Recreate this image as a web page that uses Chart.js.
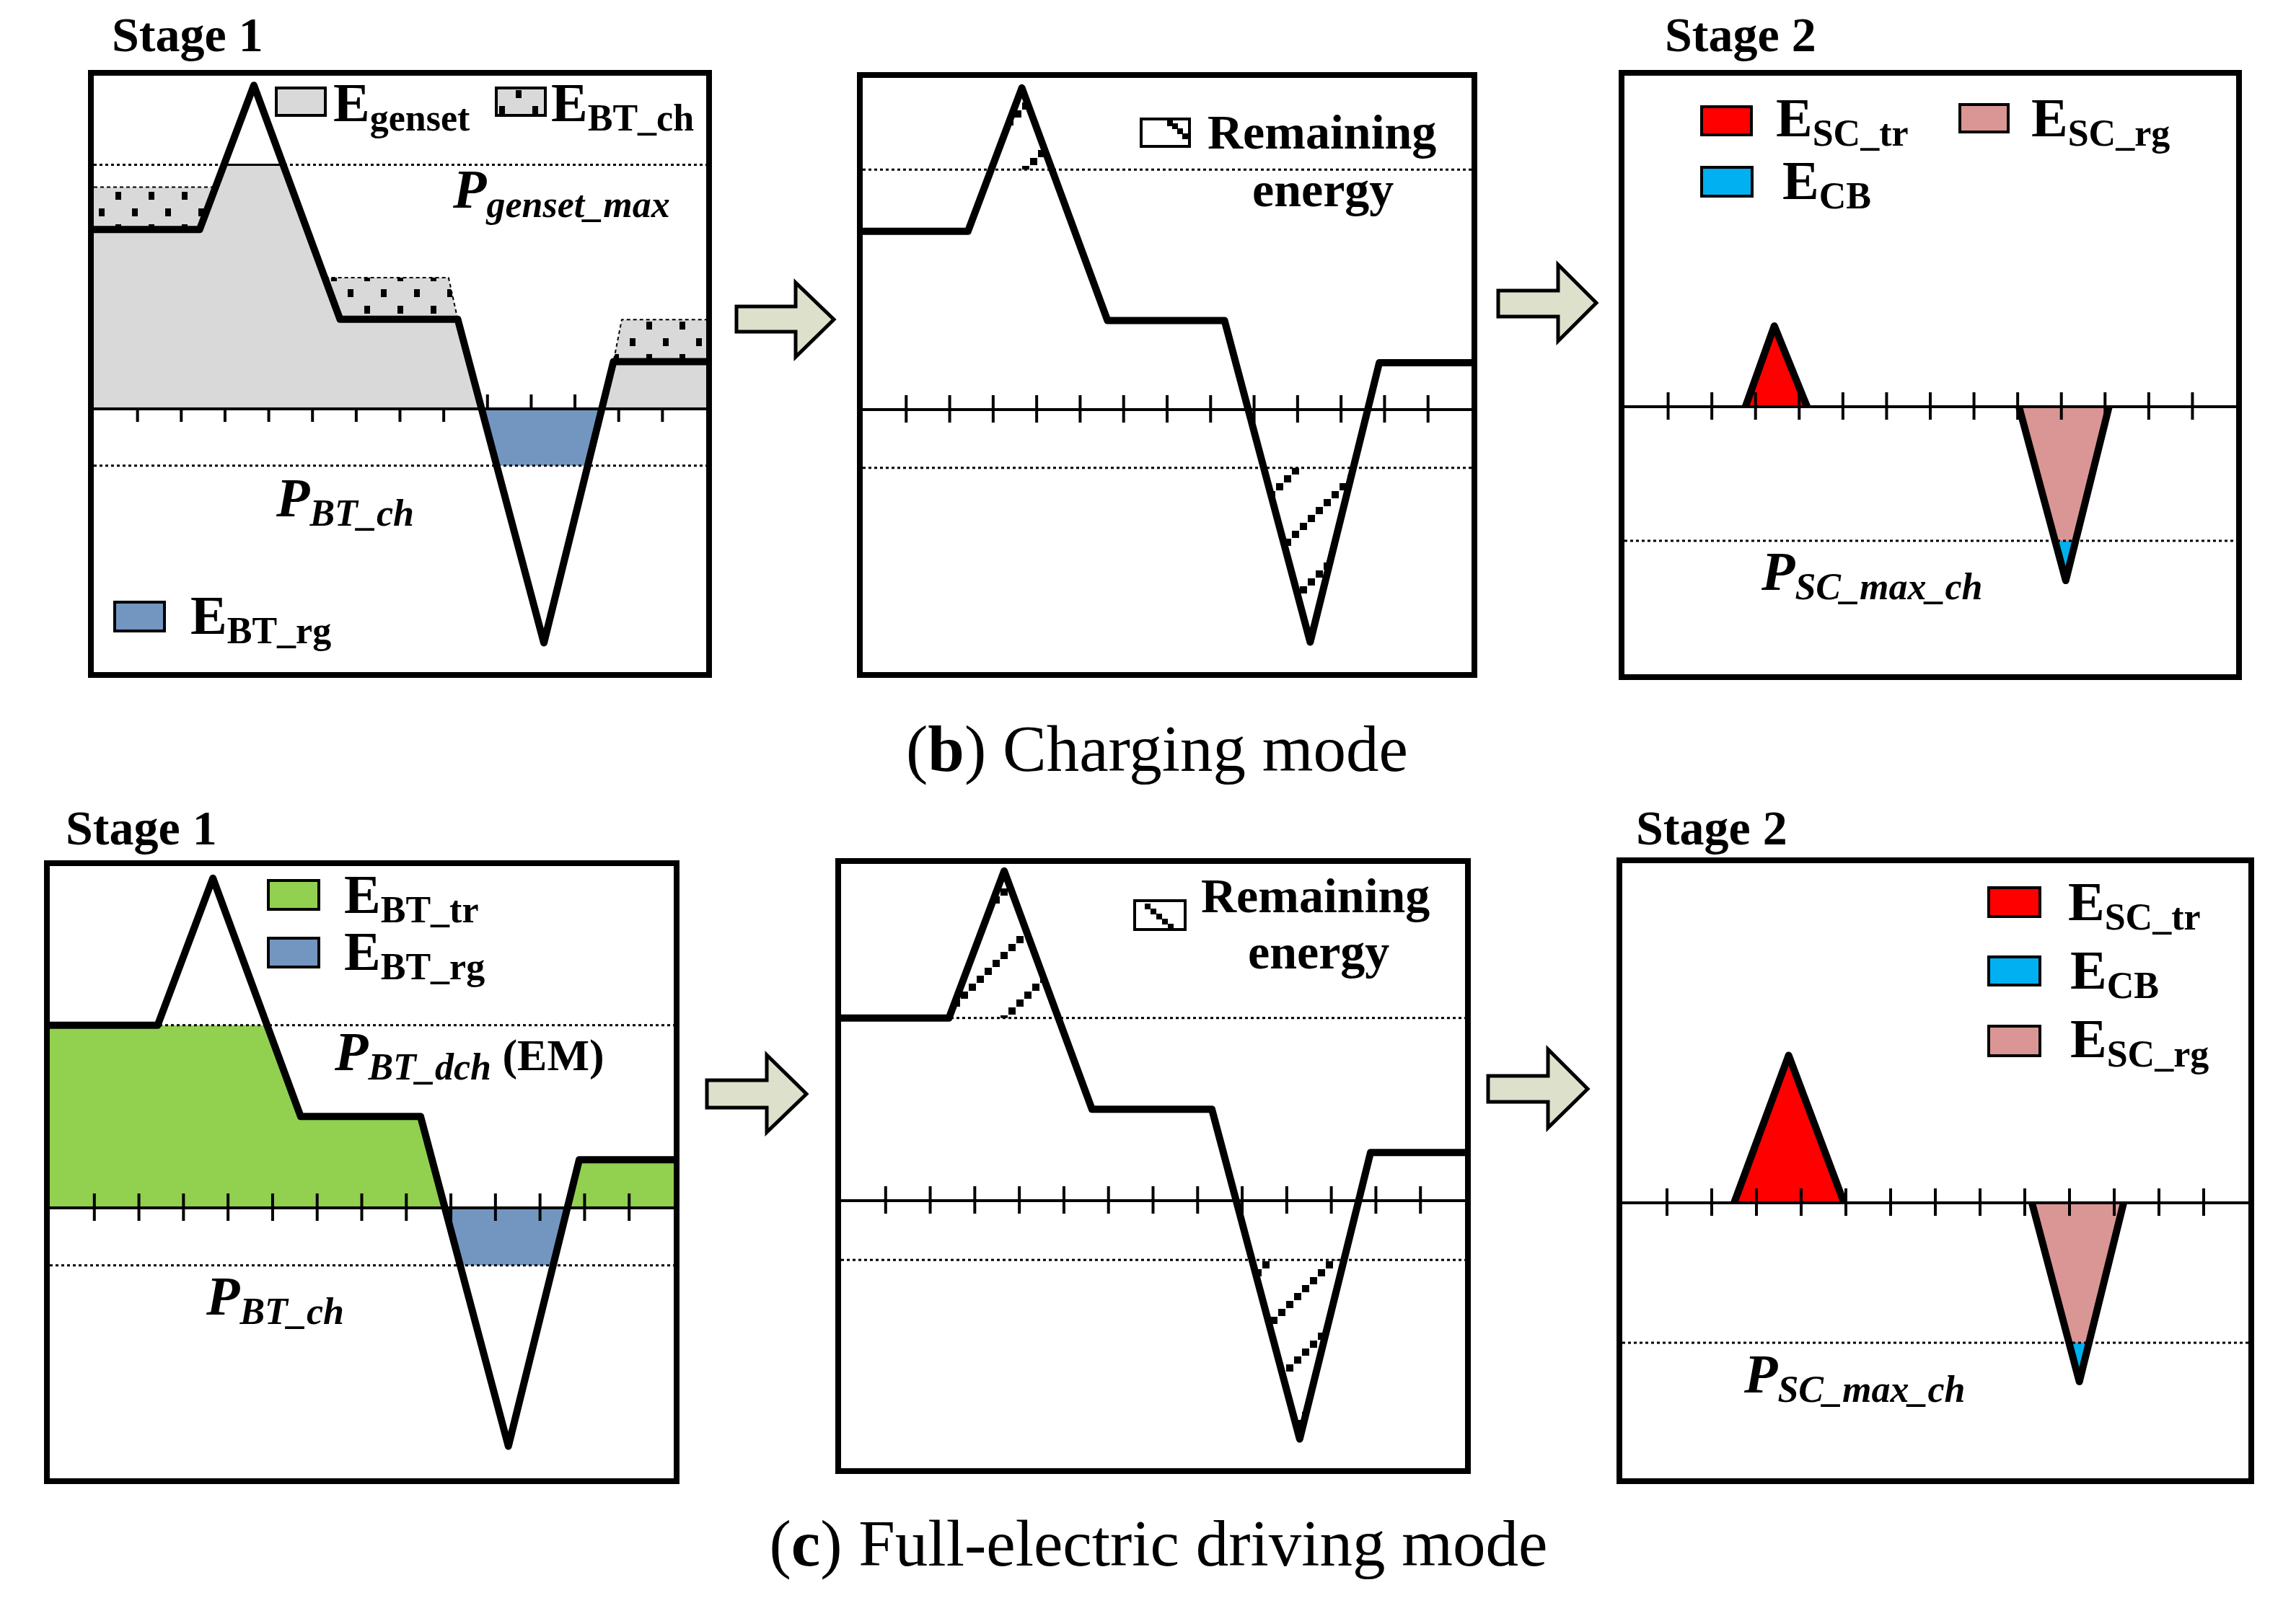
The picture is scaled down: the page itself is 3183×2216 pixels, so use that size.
<!DOCTYPE html>
<html lang="en">
<head>
  <meta charset="UTF-8">
  <title>Charging mode / Full-electric driving mode</title>
  <script src="https://cdn.jsdelivr.net/npm/chart.js"></script>
  <style>
    html, body {
      margin: 0;
      width: 3183px;
      height: 2216px;
      background: #fff;
      overflow: hidden;
    }
    body {
      position: relative;
      font-family: 'Liberation Serif', 'Times New Roman', serif;
    }
    .panel {
      position: absolute;
      border: 8px solid #000;
      box-sizing: border-box;
      background: #fff;
    }
    .panel canvas { display: block; }
    .txt {
      position: absolute;
      white-space: nowrap;
      color: #000;
      font-weight: bold;
      line-height: 1.107;
    }
    .txt sub {
      font-size: 52px;
      vertical-align: -13px;
    }
    .it { font-style: italic; }
    .cap { font-weight: normal; }
    .box {
      position: absolute;
      border: 4px solid #000;
      box-sizing: border-box;
    }
  </style>
</head>
<body>

<svg width="3183" height="2216" style="position:absolute;left:0;top:0">
  <g fill="#dde1cb" stroke="#000" stroke-width="5" stroke-linejoin="miter">
    <polygon points="1021,425 1103,425 1103,392 1156,443 1103,495 1103,460 1021,460"/>
    <polygon points="2077,403 2160,403 2160,367 2213,420 2160,473 2160,439 2077,439"/>
    <polygon points="980,1498 1063,1498 1063,1463 1118,1517 1063,1570 1063,1536 980,1536"/>
    <polygon points="2063,1492 2146,1492 2146,1455 2201,1510 2146,1564 2146,1528 2063,1528"/>
  </g>
</svg>

<script>
  // time axis runs 0..14, power in tick-spacing units (0 = axis)
  const tickPos = [1, 2, 3, 4, 5, 6, 7, 8, 9, 10, 11, 12, 13];

  // load power profile (same cycle in every panel)
  const profileX = [0, 2.42, 3.66, 5.63, 8.32, 10.29, 11.88, 14];
  const profileY = [4.1, 4.1, 7.4, 2.05, 2.05, -5.35, 1.08, 1.08];

  // (b) stage 1
  const gensetMaxB = 5.58;
  const btChB = -1.30;
  const egensetX = [0, 2.42, 2.976, 4.33, 5.63, 8.32, 8.866, 11.613, 11.88, 14];
  const egensetY = [4.1, 4.1, 5.58, 5.58, 2.05, 2.05, 0, 0, 1.08, 1.08];
  const capX = [2.976, 4.33];
  const capY = [5.58, 5.58];
  const ebtChX = [0, 2.785, 2.785, 5.28, 5.28, 8.11, 8.32, 8.32, 11.88, 11.88, 12.07, 14];
  const ebtChY = [5.07, 5.07, 0, 0, 3.0, 3.0, 2.05, 0, 0, 1.08, 2.04, 2.04];
  const ebtRgBX = [8.866, 9.212, 11.291, 11.613];
  const ebtRgBY = [0, -1.30, -1.30, 0];

  // (b) middle: remaining energy
  const gensetMaxB2 = 5.52;
  const btChB2 = -1.34;
  const remPeakBX = [2.954, 3.66, 4.352];
  const remPeakBY = [5.52, 7.4, 5.52];
  const remValBX = [9.222, 10.29, 11.282];
  const remValBY = [-1.34, -5.35, -1.34];

  // (b) stage 2
  const scMaxChB = -3.07;
  const scTrBX = [2.77, 3.43, 4.18];
  const scTrBY = [0, 1.85, 0];
  const scRgBX = [9.03, 10.10, 11.09];
  const scRgBY = [0, -3.98, 0];
  const cbBX = [9.855, 10.10, 10.326];
  const cbBY = [-3.07, -3.98, -3.07];

  // (c) stage 1
  const btDchC = 4.10;
  const btChC = -1.29;
  const ebtTrX = [0, 2.42, 4.875, 5.63, 8.32, 8.866, 11.613, 11.88, 14];
  const ebtTrY = [4.1, 4.1, 4.1, 2.05, 2.05, 0, 0, 1.08, 1.08];
  const ebtRgCX = [8.866, 9.209, 11.294, 11.613];
  const ebtRgCY = [0, -1.29, -1.29, 0];

  // (c) middle: remaining energy
  const btDchC2 = 4.10;
  const btChC2 = -1.33;
  const remPeakCX = [2.42, 3.66, 4.875];
  const remPeakCY = [4.1, 7.4, 4.1];
  const remValCX = [9.22, 10.29, 11.284];
  const remValCY = [-1.33, -5.35, -1.33];

  // (c) stage 2
  const scMaxChC = -3.13;
  const scTrCX = [2.50, 3.72, 4.96];
  const scTrCY = [0, 3.30, 0];
  const scRgCX = [9.16, 10.22, 11.21];
  const scRgCY = [0, -4.0, 0];
  const cbCX = [9.99, 10.22, 10.435];
  const cbCY = [-3.13, -4.0, -3.13];

  const GRAY = '#d9d9d9', BLUE = '#7396c1', GREEN = '#92d050';
  const RED = '#ff0000', PINK = '#d99694', CYAN = '#00b0f0';
  const LINE_W = 10;

  function pts(xs, ys) {
    return xs.map((x, i) => ({ x: x, y: ys[i] }));
  }

  // pattern tiles
  const dotTile = document.createElement('canvas');
  dotTile.width = 46; dotTile.height = 45;
  (function () {
    const g = dotTile.getContext('2d');
    g.fillStyle = GRAY; g.fillRect(0, 0, 46, 45);
    g.fillStyle = '#000';
    g.fillRect(7, 4, 8, 11);
    g.fillRect(30, 26, 8, 11);
  })();

  const hatchTile = document.createElement('canvas');
  hatchTile.width = 88; hatchTile.height = 88;
  (function () {
    const g = hatchTile.getContext('2d');
    g.fillStyle = '#000';
    for (let i = 0; i < 8; i++) g.fillRect(i * 11 + 1, 88 - (i + 1) * 11 + 1, 10, 10);
  })();

  function hline(level) {
    return { data: [{ x: 0, y: level }, { x: 14, y: level }], borderWidth: 3, borderDash: [4, 4] };
  }
  function profile() {
    return { data: pts(profileX, profileY), borderWidth: LINE_W };
  }

  const axisPlugin = {
    id: 'axisTicks',
    beforeDatasetsDraw(chart, args, opts) {
      if (opts.under) drawTicks(chart);
    },
    afterDatasetsDraw(chart, args, opts) {
      if (!opts.under) drawTicks(chart);
      const ctx = chart.ctx, y0 = chart.scales.y.getPixelForValue(0);
      ctx.save();
      ctx.fillStyle = '#000';
      ctx.fillRect(chart.chartArea.left, y0 - 2, chart.chartArea.width, 4);
      ctx.restore();
    }
  };
  function drawTicks(chart) {
    const ctx = chart.ctx, y0 = chart.scales.y.getPixelForValue(0);
    ctx.save();
    ctx.fillStyle = '#000';
    tickPos.forEach(t => {
      const px = chart.scales.x.getPixelForValue(t);
      ctx.fillRect(px - 2, y0 - 20, 4, 38);
    });
    ctx.restore();
  }

  function makePanel(left, top, w, h, axisY, layers, ticksUnder) {
    const div = document.createElement('div');
    div.className = 'panel';
    div.style.left = left + 'px';
    div.style.top = top + 'px';
    div.style.width = w + 'px';
    div.style.height = h + 'px';
    const cv = document.createElement('canvas');
    const cw = w - 16, ch = h - 16;
    cv.width = cw; cv.height = ch;
    div.appendChild(cv);
    document.body.appendChild(div);

    const u = cw / 14;
    const yMax = (axisY - (top + 8)) / u;
    const yMin = -((top + 8 + ch) - axisY) / u;
    const ctx = cv.getContext('2d');
    const list = layers(ctx);
    const datasets = list.map((d, i) => Object.assign({
      type: 'line',
      pointRadius: 0,
      tension: 0,
      fill: false,
      borderWidth: 0,
      borderColor: '#000',
      backgroundColor: 'rgba(0,0,0,0)',
      borderJoinStyle: 'round',
      order: list.length - i
    }, d));

    new Chart(ctx, {
      type: 'line',
      data: { datasets: datasets },
      options: {
        responsive: false,
        animation: false,
        events: [],
        layout: { padding: 0 },
        plugins: {
          legend: { display: false },
          tooltip: { enabled: false },
          axisTicks: { under: !!ticksUnder }
        },
        scales: {
          x: { type: 'linear', min: 0, max: 14, display: false },
          y: { type: 'linear', min: yMin, max: yMax, display: false }
        }
      },
      plugins: [axisPlugin]
    });
  }

  // (b) stage 1
  makePanel(122, 97, 865, 843, 567, ctx => [
    { data: pts(ebtChX, ebtChY), fill: 'origin', backgroundColor: ctx.createPattern(dotTile, 'repeat'),
      borderWidth: 2, borderDash: [5, 4] },
    { data: pts(egensetX, egensetY), fill: 'origin', backgroundColor: GRAY },
    { data: pts(ebtRgBX, ebtRgBY), fill: 'origin', backgroundColor: BLUE },
    { data: pts(capX, capY), borderWidth: 3 },
    hline(gensetMaxB),
    hline(btChB),
    profile()
  ], true);

  // (b) remaining energy
  makePanel(1188, 100, 860, 840, 568, ctx => {
    const hp = ctx.createPattern(hatchTile, 'repeat');
    return [
      { data: pts(remPeakBX, remPeakBY), fill: { value: gensetMaxB2 }, backgroundColor: hp },
      { data: pts(remValBX, remValBY), fill: { value: btChB2 }, backgroundColor: hp },
      hline(gensetMaxB2),
      hline(btChB2),
      profile()
    ];
  });

  // (b) stage 2
  makePanel(2244, 97, 864, 846, 564, ctx => [
    { data: pts(scTrBX, scTrBY), fill: 'origin', backgroundColor: RED },
    { data: pts(scRgBX, scRgBY), fill: 'origin', backgroundColor: PINK },
    { data: pts(cbBX, cbBY), fill: { value: scMaxChB }, backgroundColor: CYAN },
    hline(scMaxChB),
    { data: pts(scTrBX, scTrBY), borderWidth: LINE_W },
    { data: pts(scRgBX, scRgBY), borderWidth: LINE_W }
  ]);

  // (c) stage 1
  makePanel(61, 1193, 881, 865, 1675, ctx => [
    { data: pts(ebtTrX, ebtTrY), fill: 'origin', backgroundColor: GREEN },
    { data: pts(ebtRgCX, ebtRgCY), fill: 'origin', backgroundColor: BLUE },
    hline(btDchC),
    hline(btChC),
    profile()
  ]);

  // (c) remaining energy
  makePanel(1158, 1190, 881, 854, 1665, ctx => {
    const hp = ctx.createPattern(hatchTile, 'repeat');
    return [
      { data: pts(remPeakCX, remPeakCY), fill: { value: btDchC2 }, backgroundColor: hp },
      { data: pts(remValCX, remValCY), fill: { value: btChC2 }, backgroundColor: hp },
      hline(btDchC2),
      hline(btChC2),
      profile()
    ];
  });

  // (c) stage 2
  makePanel(2241, 1189, 884, 869, 1668, ctx => [
    { data: pts(scTrCX, scTrCY), fill: 'origin', backgroundColor: RED },
    { data: pts(scRgCX, scRgCY), fill: 'origin', backgroundColor: PINK },
    { data: pts(cbCX, cbCY), fill: { value: scMaxChC }, backgroundColor: CYAN },
    hline(scMaxChC),
    { data: pts(scTrCX, scTrCY), borderWidth: LINE_W },
    { data: pts(scRgCX, scRgCY), borderWidth: LINE_W }
  ]);

  // text and legend swatches
  function label(x, baseline, html, size, cls) {
    const d = document.createElement('div');
    d.className = 'txt' + (cls ? ' ' + cls : '');
    d.style.fontSize = size + 'px';
    d.style.left = x + 'px';
    d.style.top = (baseline - 0.891 * size) + 'px';
    d.innerHTML = html;
    document.body.appendChild(d);
    return d;
  }
  function centred(cx, baseline, html, size, cls) {
    const d = label(0, baseline, html, size, cls);
    d.style.left = (cx - d.offsetWidth / 2) + 'px';
  }
  function box(x, y, w, h, bg) {
    const d = document.createElement('div');
    d.className = 'box';
    d.style.left = x + 'px';
    d.style.top = y + 'px';
    d.style.width = w + 'px';
    d.style.height = h + 'px';
    d.style.background = bg;
    document.body.appendChild(d);
    return d;
  }
  function stairBox(x, y, w, h, squares) {
    const d = box(x, y, w, h, '#fff');
    const c = document.createElement('canvas');
    c.width = w - 8; c.height = h - 8;
    c.style.display = 'block';
    const g = c.getContext('2d');
    g.fillStyle = '#000';
    squares.forEach(s => g.fillRect(s[0], s[1], 8, 8));
    d.appendChild(c);
  }

  const E = 76;
  label(155, 72, 'Stage 1', 68);
  label(2308, 72, 'Stage 2', 68);
  label(91, 1172, 'Stage 1', 68);
  label(2268, 1172, 'Stage 2', 68);

  // (b) stage 1
  box(381, 120, 72, 42, GRAY);
  label(462, 168, 'E<sub>genset</sub>', E);
  const chBox = box(686, 120, 72, 42, GRAY);
  chBox.style.backgroundImage = 'url(' + dotTile.toDataURL() + ')';
  chBox.style.backgroundPosition = '18px -3px';
  label(764, 168, 'E<sub>BT_ch</sub>', E);
  label(628, 288, 'P<sub>genset_max</sub>', E, 'it');
  label(383, 716, 'P<sub>BT_ch</sub>', E, 'it');
  box(157, 833, 73, 44, BLUE);
  label(264, 879, 'E<sub>BT_rg</sub>', E);

  // (b) remaining energy
  stairBox(1580, 163, 71, 42, [[34, 0], [41, 4], [48, 11], [55, 18]]);
  label(1674, 207, 'Remaining', 68);
  label(1736, 287, 'energy', 68);

  // (b) stage 2
  box(2357, 146, 73, 43, RED);
  label(2462, 189, 'E<sub>SC_tr</sub>', E);
  box(2715, 143, 71, 42, PINK);
  label(2816, 189, 'E<sub>SC_rg</sub>', E);
  box(2357, 230, 74, 44, CYAN);
  label(2471, 276, 'E<sub>CB</sub>', E);
  label(2442, 818, 'P<sub>SC_max_ch</sub>', E, 'it');

  // (c) stage 1
  box(370, 1219, 74, 44, GREEN);
  label(477, 1266, 'E<sub>BT_tr</sub>', E);
  box(370, 1299, 74, 44, BLUE);
  label(477, 1345, 'E<sub>BT_rg</sub>', E);
  label(464, 1484, '<i>P<sub>BT_dch</sub></i><span style="font-size:62px"> (EM)</span>', E);
  label(286, 1823, 'P<sub>BT_ch</sub>', E, 'it');

  // (c) remaining energy
  stairBox(1571, 1247, 74, 44, [[12, 2], [20, 9], [28, 16], [36, 23], [44, 30]]);
  label(1665, 1266, 'Remaining', 68);
  label(1730, 1344, 'energy', 68);

  // (c) stage 2
  box(2755, 1229, 75, 44, RED);
  label(2867, 1276, 'E<sub>SC_tr</sub>', E);
  box(2755, 1325, 75, 43, CYAN);
  label(2870, 1371, 'E<sub>CB</sub>', E);
  box(2755, 1421, 75, 45, PINK);
  label(2870, 1466, 'E<sub>SC_rg</sub>', E);
  label(2418, 1931, 'P<sub>SC_max_ch</sub>', E, 'it');

  // captions
  centred(1604, 1070, '(<b>b</b>) Charging mode', 91, 'cap');
  centred(1606, 2172, '(<b>c</b>) Full-electric driving mode', 91, 'cap');
</script>
</body>
</html>
